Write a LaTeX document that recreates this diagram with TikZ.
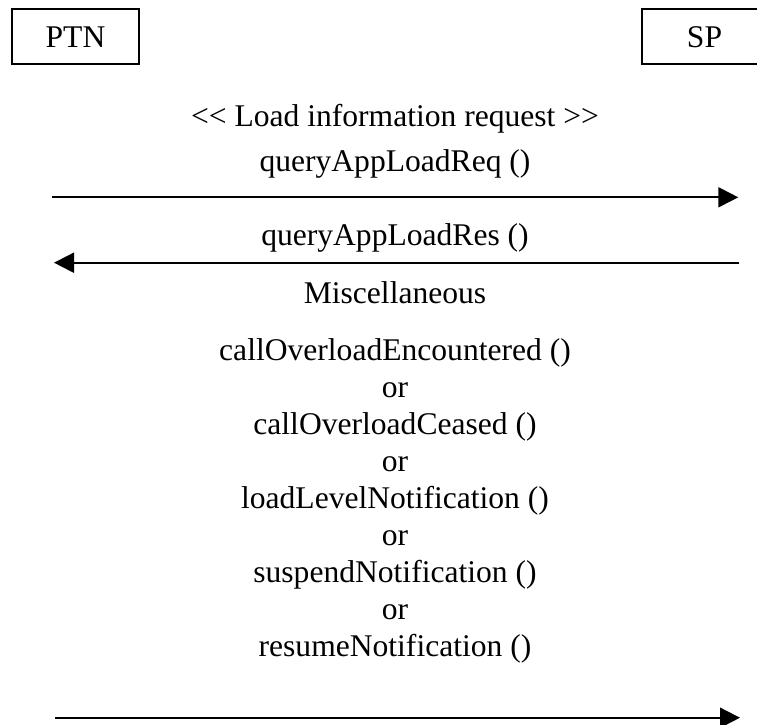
\documentclass[tikz,border=0pt]{standalone}
\usepackage{fontspec}
\setmainfont{Liberation Serif}
\usetikzlibrary{arrows.meta}
\begin{document}
\begin{tikzpicture}[x=0.38pt,y=-0.38pt,
  font=\fontsize{12pt}{14pt}\selectfont,
  line width=0.76pt,
  box/.style={draw, line width=0.76pt, minimum height=20.9pt, text height=7.95pt, text depth=0pt, inner sep=0pt},
  lbl/.style={anchor=base, inner sep=0pt},
  msg/.style={-{Triangle[length=7.6pt,width=7.6pt]}}]
\useasboundingbox (0,0) rectangle (757,724);
% entities
\node[box, minimum width=48.5pt] (ptn) at (75.5,36.8) {PTN};
\node[box, minimum width=47.7pt] (sp) at (704.5,36.8) {SP};
% texts
\node[lbl] (hdr1) at (395,126.7) {<\kern0pt< Load information request >\kern0pt>};
\node[lbl] (m1) at (395,171.7) {queryAppLoadReq ()};
\node[lbl] (m2) at (395,245) {queryAppLoadRes ()};
\node[lbl] (hdr2) at (395,303.3) {Miscellaneous};
\node[lbl] (n1) at (395,360) {callOverloadEncountered ()};
\node[lbl] (o1) at (395,397.1) {or};
\node[lbl] (n2) at (395,434.2) {callOverloadCeased ()};
\node[lbl] (o2) at (395,471.3) {or};
\node[lbl] (n3) at (395,508.4) {loadLevelNotification ()};
\node[lbl] (o3) at (395,545.5) {or};
\node[lbl] (n4) at (395,582.6) {suspendNotification ()};
\node[lbl] (o4) at (395,619.7) {or};
\node[lbl] (n5) at (395,656.8) {resumeNotification ()};
% message end points
\coordinate (l1) at (52.3,197.3);
\coordinate (r1) at (738.3,197.3);
\coordinate (l2) at (54,262.7);
\coordinate (r2) at (739.3,262.7);
\coordinate (l3) at (55,717.7);
\coordinate (r3) at (740,717.7);
\draw[msg] (l1) -- (r1);
\draw[msg] (r2) -- (l2);
\draw[msg] (l3) -- (r3);
\end{tikzpicture}
\end{document}
